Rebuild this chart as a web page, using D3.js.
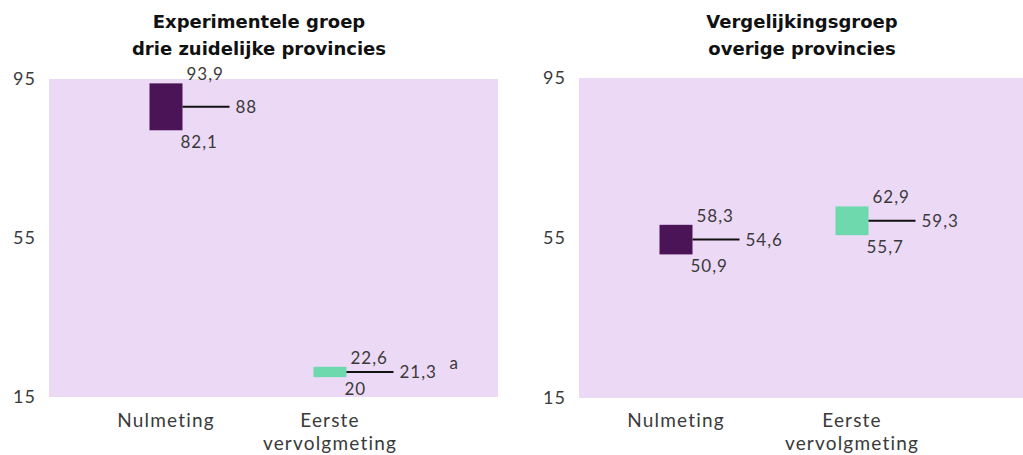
<!DOCTYPE html>
<html><head><meta charset="utf-8">
<script src="https://cdn.jsdelivr.net/npm/d3@7"></script>
<style>
html,body{margin:0;padding:0;background:#fff;}
svg{display:block;}
</style>
</head><body>
<svg id="chart" width="1023" height="455"></svg>
<script>
// ---- data ----
const categories = ["Nulmeting", "Eerste vervolgmeting"];
const panelTitles = [["Experimentele groep", "drie zuidelijke provincies"], ["Vergelijkingsgroep", "overige provincies"]];
const lowValues  = [[82.1, 20], [50.9, 55.7]];
const meanValues = [[88, 21.3], [54.6, 59.3]];
const highValues = [[93.9, 22.6], [58.3, 62.9]];
const meanNotes  = [["", "a"], ["", ""]];
const yTicks = [15, 55, 95];
const yDomain = [15, 95];
const barColors = ["#4a1456", "#6fd9ae"];

// ---- layout ----
const svg = d3.select("#chart");
const panels = [
  {x0: 49, x1: 498, y0: 79, y1: 397, titleX: 259, catRange: [166, 330]},
  {x0: 579, x1: 1023, y0: 78, y1: 398, titleX: 802, catRange: [676, 852]}
];
const numFont = "Lato, 'Open Sans', sans-serif";
const txtColor = "#3a3a3a";
const fmt = v => String(v).replace(".", ",");
const barW = 33, lineLen = 47;

panels.forEach((p, pi) => {
  const g = svg.append("g");
  const y = d3.scaleLinear().domain(yDomain).range([p.y1, p.y0]);
  const x = d3.scalePoint().domain(categories).range(p.catRange);

  g.append("rect").attr("x", p.x0).attr("y", p.y0)
    .attr("width", p.x1 - p.x0).attr("height", p.y1 - p.y0)
    .attr("fill", "#ecd9f5");

  // title (one text per line)
  panelTitles[pi].forEach((line, i) => {
    g.append("text").attr("x", p.titleX).attr("y", 28 + i * 27)
      .attr("text-anchor", "middle")
      .style("font-family", "'DejaVu Sans', Verdana, sans-serif")
      .style("font-weight", "bold").style("font-size", "18px").attr("fill", "#111")
      .text(line);
  });

  // y axis
  const ax = g.append("g").attr("transform", `translate(${p.x0 - 13},0)`)
    .call(d3.axisLeft(y).tickValues(yTicks).tickSize(0).tickPadding(0).tickFormat(d3.format("d")));
  ax.select(".domain").remove();
  ax.selectAll("text").style("font-family", numFont).style("font-weight", 400)
    .style("font-size", "18px").style("letter-spacing", "1px").attr("fill", txtColor);

  // x category labels (one text per line)
  categories.forEach(c => {
    c.split(" ").forEach((w, i) => {
      g.append("text").attr("x", x(c)).attr("y", 427 + i * 23).attr("text-anchor", "middle")
        .style("font-family", numFont).style("font-weight", 400)
        .style("font-size", "19px").style("letter-spacing", "1.2px").attr("fill", txtColor)
        .text(w);
    });
  });

  // bars
  categories.forEach((c, ci) => {
    const lo = lowValues[pi][ci], hi = highValues[pi][ci], mn = meanValues[pi][ci];
    const bx = x(c) - barW / 2;
    g.append("rect").attr("x", bx).attr("y", y(hi))
      .attr("width", barW).attr("height", y(lo) - y(hi)).attr("fill", barColors[ci]);
    g.append("line").attr("x1", bx + barW).attr("x2", bx + barW + lineLen)
      .attr("y1", y(mn)).attr("y2", y(mn)).attr("stroke", "#111").attr("stroke-width", 2);

    const lab = (txt, lx, ly, base) => g.append("text").attr("x", lx).attr("y", ly)
      .attr("dominant-baseline", base)
      .style("font-family", numFont).style("font-weight", 400)
      .style("font-size", "17px").style("letter-spacing", "1px").attr("fill", txtColor).text(txt);
    lab(fmt(hi), bx + barW + 4, y(hi) - 3, "auto");
    lab(fmt(lo), bx + barW - 2, y(lo) + 4, "hanging");
    lab(fmt(mn), bx + barW + lineLen + 6, y(mn) + 6, "auto");
    if (meanNotes[pi][ci]) {
      g.append("text").attr("x", bx + barW + lineLen + 56).attr("y", y(mn) - 3)
        .style("font-family", numFont).style("font-weight", 400)
        .style("font-size", "17px").attr("fill", txtColor).text(meanNotes[pi][ci]);
    }
  });
});
</script>
</body></html>
